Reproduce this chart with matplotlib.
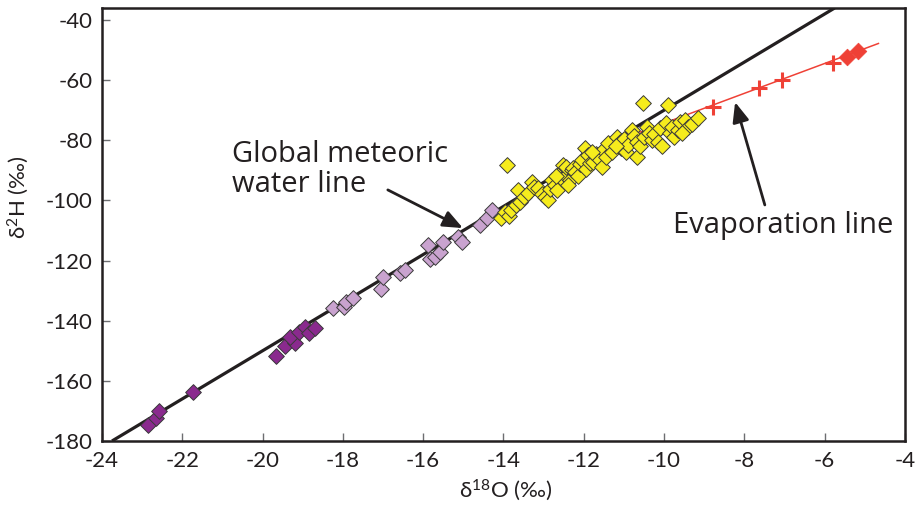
"""Isotope plot: d18O vs d2H with GMWL and evaporation line."""
import matplotlib
matplotlib.use("Agg")
import matplotlib.pyplot as plt

plt.rcParams["font.family"] = ["Lato", "DejaVu Sans"]
plt.rcParams["mathtext.fontset"] = "custom"
plt.rcParams["mathtext.rm"] = "Lato"
plt.rcParams["mathtext.it"] = "Lato:italic"
plt.rcParams["axes.unicode_minus"] = False

TEXT = "#231f20"
C_DARK = "#8a2a8e"
C_LIGHT = "#c9a3cf"
C_YELLOW = "#f6ec1d"
C_RED = "#ef4136"

# global meteoric water line (end points)
gmwl_x = [-23.75, -5.75]
gmwl_y = [-180.0, -36.0]

# evaporation line (end points)
evap_x = [-10.6, -4.66]
evap_y = [-77.3, -47.8]

dark_x = [-22.85, -22.66, -22.58, -21.73, -19.67, -19.44, -19.19, -19.32,
          -19.09, -18.94, -18.84, -18.69]
dark_y = [-174.7, -172.5, -170.0, -163.8, -151.7, -148.4, -147.5, -145.3,
          -143.7, -142.0, -144.2, -142.3]

light_x = [-18.24, -17.97, -17.91, -17.74, -17.05, -16.99, -16.58, -16.45,
           -15.87, -15.83, -15.71, -15.58, -15.50, -15.13, -15.04, -14.59,
           -14.42, -14.29]
light_y = [-135.9, -135.5, -133.7, -132.3, -129.6, -125.4, -124.2, -123.1,
           -114.8, -119.6, -118.7, -117.1, -113.7, -112.1, -113.7, -108.2,
           -106.0, -103.2]

yellow_x = [-14.05, -13.96, -13.85, -13.80, -13.70, -13.63, -13.59, -13.50,
            -13.38, -13.30, -13.25, -13.13, -13.05, -12.97, -12.88, -12.85,
            -12.80, -12.72, -12.67, -12.59, -12.55, -12.51, -12.45, -12.43,
            -12.34, -12.30, -12.26, -12.22, -12.15, -12.10, -12.05, -11.97,
            -11.95, -11.90, -11.85, -11.76, -11.70, -11.65, -11.55, -11.51,
            -11.45, -11.40, -11.30, -11.18, -11.10, -11.06, -11.00, -10.95,
            -10.90, -10.81, -10.75, -10.68, -10.68, -10.60, -10.52, -10.50,
            -10.43, -10.38, -10.30, -10.25, -10.14, -10.10, -10.05, -9.94,
            -9.90, -9.85, -9.80, -9.75, -9.65, -9.60, -9.48, -9.40,
            -9.30, -9.15, -13.92, -12.70, -12.40, -11.80, -11.20, -9.55]
yellow_y = [-106.0, -103.7, -105.2, -103.2, -101.5, -96.5, -100.4, -99.0,
            -97.6, -93.8, -95.5, -96.0, -98.0, -98.8, -99.9, -96.2,
            -93.2, -94.8, -96.5, -91.0, -93.0, -88.2, -91.8, -88.8,
            -93.2, -90.0, -89.3, -90.4, -92.0, -88.0, -86.5, -82.7,
            -89.5, -85.0, -87.5, -87.1, -84.5, -86.0, -88.8, -83.2,
            -85.5, -81.0, -84.0, -78.8, -80.5, -82.7, -79.5, -84.0,
            -81.5, -76.6, -78.5, -80.5, -85.5, -82.0, -67.7, -79.0,
            -75.5, -77.5, -80.0, -78.0, -80.5, -76.0, -82.0, -74.4,
            -68.3, -77.7, -75.5, -79.0, -76.6, -74.0, -73.3, -75.5,
            -74.5, -72.7, -88.2, -92.0, -95.0, -84.0, -82.0, -77.5]

cross_x = [-8.77, -7.64, -7.07, -5.80]
cross_y = [-68.8, -62.7, -60.0, -54.4]

red_x = [-5.45, -5.16]
red_y = [-52.2, -50.2]

fig = plt.figure(figsize=(9.22, 5.12), dpi=100)
ax = fig.add_axes([0.1106, 0.1387, 0.8709, 0.8457])

ax.plot(gmwl_x, gmwl_y, color=TEXT, lw=2.3, zorder=2, solid_capstyle="butt")
ax.plot(evap_x, evap_y, color=C_RED, lw=1.1, zorder=2)

mk = dict(marker="D", s=64, linewidths=0.7, edgecolors="#3a3a3a", zorder=3)
ax.scatter(dark_x, dark_y, color=C_DARK, **mk)
ax.scatter(light_x, light_y, color=C_LIGHT, **mk)
ax.scatter(yellow_x, yellow_y, color=C_YELLOW, **mk)
ax.scatter(cross_x, cross_y, marker="+", s=120, linewidths=2.2, color=C_RED, zorder=3)
ax.scatter(red_x, red_y, marker="D", s=72, color=C_RED, edgecolors=C_RED,
           linewidths=0.5, zorder=3)

# annotations
note_font = ["Open Sans", "DejaVu Sans"]
ax.text(-20.76, -87.2, "Global meteoric", fontsize=21, color=TEXT,
        ha="left", va="baseline", family=note_font)
ax.text(-20.76, -97.2, "water line", fontsize=21, color=TEXT,
        ha="left", va="baseline", family=note_font)
ax.annotate("", xy=(-15.01, -109.2), xytext=(-16.88, -96.5),
            arrowprops=dict(arrowstyle="-|>,head_length=1.2,head_width=0.5",
                            color=TEXT, lw=2.0, shrinkA=0, shrinkB=0))
ax.text(-9.78, -110.8, "Evaporation line", fontsize=21, color=TEXT,
        ha="left", va="baseline", family=note_font)
ax.annotate("", xy=(-8.23, -67.3), xytext=(-7.49, -101.5),
            arrowprops=dict(arrowstyle="-|>,head_length=1.2,head_width=0.5",
                            color=TEXT, lw=2.0, shrinkA=0, shrinkB=0))

ax.set_xlim(-24, -4)
ax.set_ylim(-180, -36)
ax.set_xticks(range(-24, -3, 2))
ax.set_yticks(range(-180, -39, 20))
ax.tick_params(direction="in", length=6, width=1.0, color="#6d6e71",
               labelsize=16, labelcolor=TEXT, pad=7)
for sp in ax.spines.values():
    sp.set_linewidth(1.8)
    sp.set_color(TEXT)

ax.set_xlabel(r"δ$^{18}$O (‰)", fontsize=16, color=TEXT)
ax.set_ylabel(r"δ$^{2}$H (‰)", fontsize=16, color=TEXT)
ax.xaxis.set_label_coords(0.503, -0.085)
ax.yaxis.set_label_coords(-0.088, 0.563)

fig.savefig("out.png", dpi=100)
plt.close(fig)
